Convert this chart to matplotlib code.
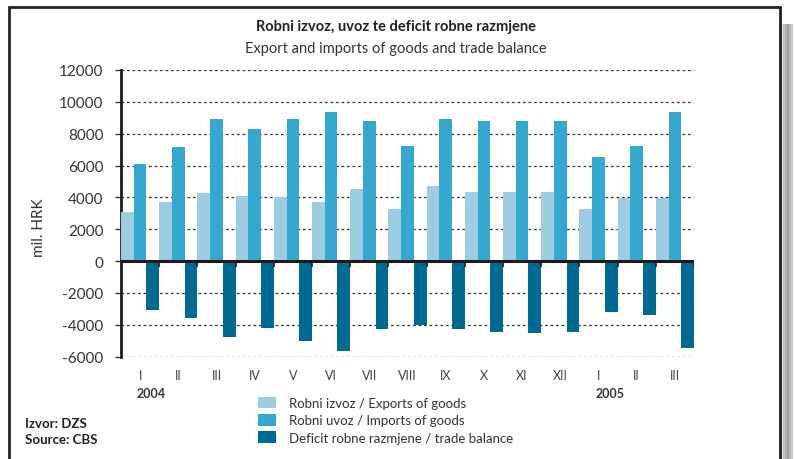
import numpy as np
import matplotlib
matplotlib.use("Agg")
import matplotlib.pyplot as plt
from matplotlib.patches import Rectangle
from matplotlib.transforms import blended_transform_factory

plt.rcParams['font.family'] = ['Lato', 'DejaVu Sans']
plt.rcParams['axes.unicode_minus'] = False

months = ["I", "II", "III", "IV", "V", "VI", "VII", "VIII", "IX", "X", "XI", "XII", "I", "II", "III"]
exports = [3100, 3700, 4270, 4080, 4020, 3700, 4500, 3260, 4700, 4330, 4330, 4330, 3260, 3950, 3950]
imports = [6090, 7150, 8900, 8280, 8900, 9350, 8800, 7200, 8900, 8800, 8800, 8800, 6530, 7220, 9350]
deficit = [-3080, -3580, -4770, -4200, -5020, -5650, -4270, -4000, -4270, -4460, -4520, -4460, -3200, -3400, -5460]
years = ["2004", "2005"]
year_pos = [0.3, 12.3]

c_exp = "#9ecce3"
c_imp = "#36a7cf"
c_def = "#006a92"

W, H = 794, 460
fig = plt.figure(figsize=(W / 100, H / 100), dpi=100)

# frame + shadow
for k, g in enumerate(["#d8d8d8", "#c4c4c4", "#b0b0b0", "#a0a0a0", "#b8b8b8", "#d0d0d0"]):
    fig.patches.append(Rectangle(((781 + 2 * k) / W, -0.1), 2 / W, (460 - 25) / H + 0.1,
                                 transform=fig.transFigure, facecolor=g, edgecolor="none", zorder=0))
fig.patches.append(Rectangle((9 / W, -0.1), (780 - 9) / W, (460 - 8) / H + 0.1,
                             transform=fig.transFigure, facecolor="white", edgecolor="#222222",
                             linewidth=2, zorder=1))

ax = fig.add_axes([121 / W, 1 - 357.5 / H, (694 - 121) / W, (357.5 - 71) / H])
ax.set_zorder(2)
ax.patch.set_alpha(0)

x = np.arange(len(months))
bw = 1 / 3
ax.bar(x - bw, exports, bw, color=c_exp, label="Robni izvoz / Exports of goods", zorder=3)
ax.bar(x, imports, bw, color=c_imp, label="Robni uvoz / Imports of goods", zorder=3)
ax.bar(x + bw, deficit, bw, color=c_def, label="Deficit robne razmjene / trade balance", zorder=3)

ax.set_xlim(-0.5, len(months) - 0.5)
ax.set_ylim(-6000, 12000)
ax.set_yticks(np.arange(-6000, 12001, 2000))
for yv in np.arange(-6000, 12001, 2000):
    if yv != 0:
        ax.axhline(yv, color="#333333", lw=0.9, ls=(0, (2.2, 2.2)), zorder=1)
ax.axhline(0, color="#1a1a1a", lw=2.2, zorder=4)

# small ticks at group boundaries on the zero line
bounds = x + 0.5
ax.vlines(bounds, -380, 0, color="#1a1a1a", lw=1.2, zorder=4)

for s in ["top", "right", "bottom"]:
    ax.spines[s].set_visible(False)
ax.spines["left"].set_linewidth(2)
ax.spines["left"].set_color("#1a1a1a")

ax.set_xticks(x)
ax.set_xticklabels(months, fontsize=9, color="#444444")
ax.tick_params(axis="x", length=0, pad=9)
ax.tick_params(axis="y", length=4.5, width=1, color="#333333", labelsize=11,
               labelcolor="#333333", pad=8)

tr = blended_transform_factory(ax.transData, fig.transFigure)
for yl, xp in zip(years, year_pos):
    ax.text(xp, 1 - 394 / H, yl, transform=tr, fontsize=9, fontweight="bold",
            color="#333333", ha="center", va="center")

fig.text(39 / W, 1 - 228 / H, "mil. HRK", rotation=90, fontsize=11, color="#333333",
         ha="center", va="center")

fig.text(396 / W, 1 - 27 / H, "Robni izvoz, uvoz te deficit robne razmjene",
         fontsize=10.5, fontweight="bold", color="#222222", ha="center", va="center")
fig.text(396 / W, 1 - 49 / H, "Export and imports of goods and trade balance",
         fontsize=10.5, color="#333333", ha="center", va="center")

fig.text(25 / W, 1 - 424 / H, "Izvor: DZS", fontsize=9.5, fontweight="bold", color="#222222",
         va="center")
fig.text(25 / W, 1 - 440 / H, "Source: CBS", fontsize=9.5, fontweight="bold", color="#222222",
         va="center")

fig.legend(loc="upper left", bbox_to_anchor=(258 / W, 1 - 398 / H), frameon=False,
           fontsize=9.5, handlelength=1.35, handleheight=0.95, handletextpad=1.0,
           labelspacing=0.38, borderpad=0, borderaxespad=0, labelcolor="#333333")

fig.savefig("out.png", dpi=100)
